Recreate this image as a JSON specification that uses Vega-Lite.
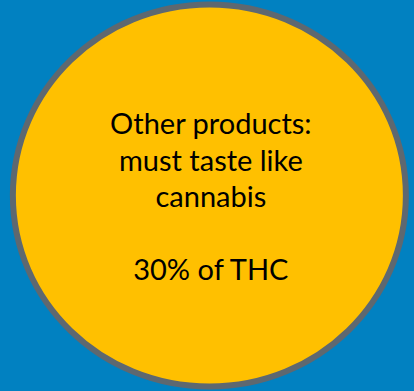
{
  "$schema": "https://vega.github.io/schema/vega-lite/v6.json",
  "width": 414,
  "height": 391,
  "padding": 0,
  "autosize": {"type": "fit", "contains": "padding"},
  "background": "#0181C1",
  "config": {"view": {"stroke": null}},
  "datasets": {
    "shape": [{"name": "circle", "cx": 213.5, "cy": 195}],
    "lines": [
      {"label": "Other products:", "x": 215, "y": 131},
      {"label": "must taste like", "x": 215, "y": 169},
      {"label": "cannabis", "x": 215, "y": 207},
      {"label": "30% of THC", "x": 215, "y": 283}
    ]
  },
  "layer": [
    {
      "data": {"name": "shape"},
      "mark": {
        "type": "point",
        "shape": "M-1,0A1,0.972,0,1,0,1,0A1,0.972,0,1,0,-1,0Z",
        "size": 154449,
        "filled": true,
        "fill": "#FFC000",
        "fillOpacity": 1,
        "stroke": "#5E6870",
        "strokeWidth": 6,
        "opacity": 1
      },
      "encoding": {
        "x": {"field": "cx", "type": "quantitative", "scale": {"domain": [0, 414]}, "axis": null},
        "y": {"field": "cy", "type": "quantitative", "scale": {"domain": [0, 391], "reverse": true}, "axis": null}
      }
    },
    {
      "data": {"name": "lines"},
      "mark": {"type": "text", "font": "Lato", "fontSize": 29, "align": "center", "baseline": "alphabetic", "color": "#000000"},
      "encoding": {
        "x": {"field": "x", "type": "quantitative", "scale": {"domain": [0, 414]}, "axis": null},
        "y": {"field": "y", "type": "quantitative", "scale": {"domain": [0, 391], "reverse": true}, "axis": null},
        "text": {"field": "label"}
      }
    }
  ]
}
